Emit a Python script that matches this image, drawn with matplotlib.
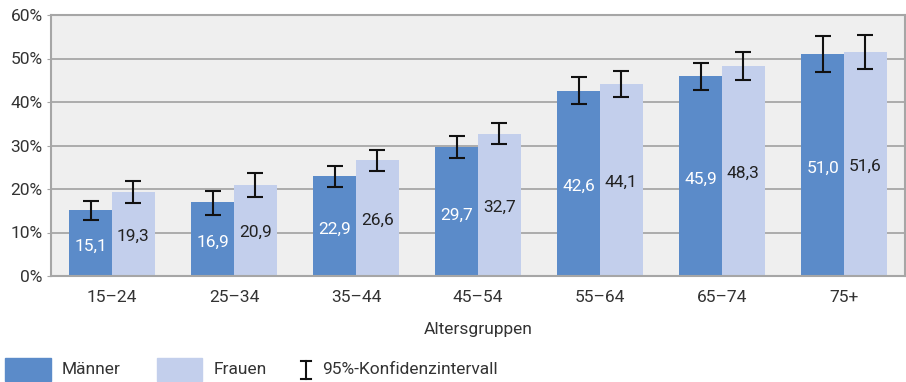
import numpy as np
import matplotlib.pyplot as plt
from matplotlib.patches import Rectangle
from matplotlib.lines import Line2D

plt.rcParams['font.family'] = ['Roboto', 'DejaVu Sans']

# Daten
altersgruppen = ["15–24", "25–34", "35–44", "45–54", "55–64", "65–74", "75+"]
maenner = [15.1, 16.9, 22.9, 29.7, 42.6, 45.9, 51.0]
frauen = [19.3, 20.9, 26.6, 32.7, 44.1, 48.3, 51.6]
# 95%-Konfidenzintervalle (untere, obere Grenze)
maenner_ki_unten = [12.9, 14.1, 20.4, 27.1, 39.5, 42.8, 46.9]
maenner_ki_oben = [17.2, 19.6, 25.4, 32.2, 45.7, 49.0, 55.2]
frauen_ki_unten = [16.8, 18.2, 24.1, 30.3, 41.1, 45.1, 47.7]
frauen_ki_oben = [21.8, 23.6, 29.0, 35.1, 47.1, 51.4, 55.5]

c_m = "#5b8bc9"
c_f = "#c3cfec"
grau = "#a6a6a6"
txt = "#333333"
fs = 12.5

fig = plt.figure(figsize=(9.06, 3.82), dpi=100)
ax = fig.add_axes([51/906, 1-276/382, 854/906, 261/382])
ax.set_facecolor("#efefef")

x = np.arange(len(altersgruppen))
w = 0.35
m = np.array(maenner)
f = np.array(frauen)
ax.bar(x - w/2, m, w, color=c_m, zorder=2)
ax.bar(x + w/2, f, w, color=c_f, zorder=2)

m_err = [m - np.array(maenner_ki_unten), np.array(maenner_ki_oben) - m]
f_err = [f - np.array(frauen_ki_unten), np.array(frauen_ki_oben) - f]
kw = dict(fmt="none", ecolor="#111111", elinewidth=1.5, capsize=5.5, capthick=1.5, zorder=3)
ax.errorbar(x - w/2, m, yerr=m_err, **kw)
ax.errorbar(x + w/2, f, yerr=f_err, **kw)

for xi, v in zip(x, m):
    ax.text(xi - w/2, v/2 - 0.8, f"{v:.1f}".replace(".", ","), ha="center", va="center",
            color="white", fontsize=fs, zorder=4)
for xi, v in zip(x, f):
    ax.text(xi + w/2, v/2 - 0.5, f"{v:.1f}".replace(".", ","), ha="center", va="center",
            color="#222222", fontsize=fs, zorder=4)

ax.set_xlim(-0.5, len(altersgruppen) - 0.5)
ax.set_ylim(0, 60)
ax.set_yticks(np.arange(0, 61, 10))
ax.set_yticklabels([f"{v}%" for v in range(0, 61, 10)])
ax.set_xticks(x)
ax.set_xticklabels(altersgruppen)
ax.yaxis.grid(True, color=grau, linewidth=1.3, zorder=1)
ax.set_axisbelow(True)
for s in ax.spines.values():
    s.set_color(grau)
    s.set_linewidth(1.5)
ax.tick_params(axis="y", length=3, color=grau, labelsize=fs, labelcolor=txt, pad=3)
ax.tick_params(axis="x", length=0, labelsize=fs, labelcolor=txt, pad=10)
ax.set_xlabel("Altersgruppen", fontsize=fs, color=txt, labelpad=12)

# Legende
fig.add_artist(Rectangle((5/906, 1-381/382), 46/906, 23/382, color=c_m, transform=fig.transFigure))
fig.text(62/906, 1-370/382, "Männer", fontsize=fs, color=txt, va="center")
fig.add_artist(Rectangle((157/906, 1-381/382), 45/906, 23/382, color=c_f, transform=fig.transFigure))
fig.text(214/906, 1-370/382, "Frauen", fontsize=fs, color=txt, va="center")
xi, y0, y1 = 306/906, 1-379/382, 1-361/382
for line in [([xi, xi], [y0, y1]), ([xi-5/906, xi+5/906], [y0, y0]), ([xi-5/906, xi+5/906], [y1, y1])]:
    fig.add_artist(Line2D(line[0], line[1], color="#111111", linewidth=1.5, transform=fig.transFigure))
fig.text(322/906, 1-370/382, "95%-Konfidenzintervall", fontsize=fs, color=txt, va="center")

fig.savefig("out.png", dpi=100)
